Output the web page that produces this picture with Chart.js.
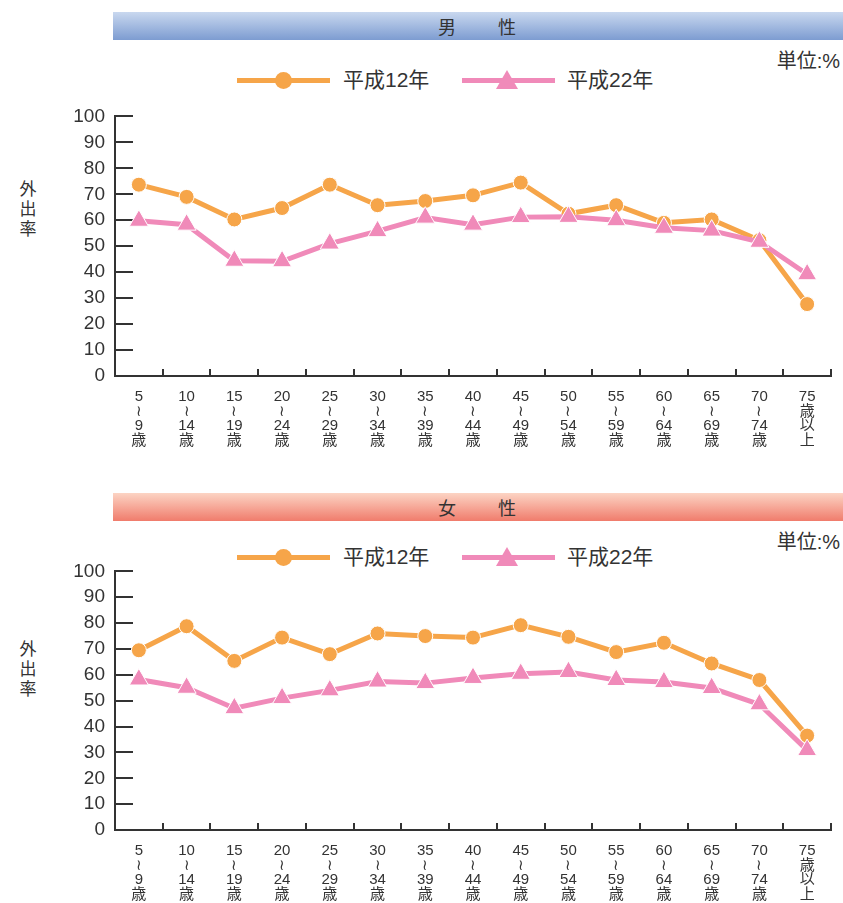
<!DOCTYPE html>
<html>
<head>
<meta charset="utf-8">
<script src="https://cdn.jsdelivr.net/npm/chart.js@4"></script>
<style>
  body { margin: 0; background: #fff; overflow: hidden; }
  #page { position: relative; width: 843px; height: 903px; font-family: 'Liberation Sans', 'Noto Sans CJK JP', sans-serif; color: #333; }
  .bar { position: absolute; left: 113px; width: 730px; height: 28px; line-height: 28px; text-align: center; font-size: 18px; letter-spacing: 2px; font-family: 'Noto Sans CJK JP', sans-serif; }
  .male { background: linear-gradient(#c9d8ef, #7d9cd1); }
  .female { background: linear-gradient(#fcd4c4, #f07c6c); }
  .unit { position: absolute; right: 3px; font-size: 20px; }
  .ytitle { position: absolute; left: 18px; width: 20px; font-size: 17px; line-height: 20px; text-align: center; font-family: 'Noto Sans CJK JP', sans-serif; }
  .lg { position: absolute; height: 24px; }
  .lg .line { position: absolute; top: 10px; height: 5px; width: 93px; }
  .lg .dot { position: absolute; top: 4px; width: 17px; height: 17px; border-radius: 50%; }
  .lg .tri { position: absolute; top: 2px; width: 0; height: 0; border-left: 11px solid transparent; border-right: 11px solid transparent; }
  .lg .txt { position: absolute; top: 0; font-size: 21px; line-height: 24px; white-space: nowrap; }
  canvas { position: absolute; left: 0; }
</style>
</head>
<body>
<div id="page">
  <div class="bar male" style="top:12px">男　　性</div>
  <div class="unit" style="top:45px">単位:%</div>
  <div class="lg" id="lg1" style="top:68px"></div>
  <div class="ytitle" style="top:178px">外<br>出<br>率</div>
  <canvas id="chart1" width="843" height="360" style="top:95px"></canvas>

  <div class="bar female" style="top:493px">女　　性</div>
  <div class="unit" style="top:526px">単位:%</div>
  <div class="lg" id="lg2" style="top:545px"></div>
  <div class="ytitle" style="top:638px">外<br>出<br>率</div>
  <canvas id="chart2" width="843" height="353" style="top:550px"></canvas>
</div>
<script>
var ageLabels = [
  ['5', '≀', '9', '歳'], ['10', '≀', '14', '歳'], ['15', '≀', '19', '歳'], ['20', '≀', '24', '歳'],
  ['25', '≀', '29', '歳'], ['30', '≀', '34', '歳'], ['35', '≀', '39', '歳'], ['40', '≀', '44', '歳'],
  ['45', '≀', '49', '歳'], ['50', '≀', '54', '歳'], ['55', '≀', '59', '歳'], ['60', '≀', '64', '歳'],
  ['65', '≀', '69', '歳'], ['70', '≀', '74', '歳'], ['75', '歳', '以', '上']
];
var seriesNames = ['平成12年', '平成22年'];

// 男性
var maleH12 = [73.7, 69.0, 60.3, 64.7, 73.7, 65.8, 67.4, 69.6, 74.5, 62.5, 65.8, 59.0, 60.3, 52.3, 27.7];
var maleH22 = [59.8, 58.3, 44.4, 44.2, 51.0, 55.8, 61.0, 58.3, 61.2, 61.3, 60.0, 57.1, 56.0, 51.7, 39.2];
// 女性
var femaleH12 = [69.5, 78.8, 65.4, 74.4, 68.0, 76.0, 75.0, 74.4, 79.2, 74.7, 68.8, 72.4, 64.4, 58.0, 36.5];
var femaleH22 = [58.2, 55.0, 47.1, 51.0, 54.0, 57.4, 56.8, 58.8, 60.4, 61.1, 58.0, 57.2, 54.9, 48.6, 30.9];

var yTicks = [0, 10, 20, 30, 40, 50, 60, 70, 80, 90, 100];

var orange = '#f6a549';
var pink = '#f08ab9';
var axisColor = '#333';
var fontFamily = "'Liberation Sans', 'Noto Sans CJK JP', sans-serif";

// legend: line + marker like the original
function buildLegend(id) {
  var el = document.getElementById(id);
  el.innerHTML =
    '<div class="line" style="left:237px;background:' + orange + '"></div>' +
    '<div class="dot" style="left:275px;background:' + orange + '"></div>' +
    '<div class="txt" style="left:343px">' + seriesNames[0] + '</div>' +
    '<div class="line" style="left:462px;background:' + pink + '"></div>' +
    '<div class="tri" style="left:496px;border-bottom:19px solid ' + pink + '"></div>' +
    '<div class="txt" style="left:567px">' + seriesNames[1] + '</div>';
}
buildLegend('lg1');
buildLegend('lg2');

// short tick marks pointing into the plot
var innerTicks = {
  id: 'innerTicks',
  beforeDatasetsDraw: function (chart) {
    var ctx = chart.ctx, x = chart.scales.x, y = chart.scales.y;
    var area = chart.chartArea;
    ctx.save();
    ctx.strokeStyle = axisColor;
    ctx.lineWidth = 2;
    ctx.beginPath();
    yTicks.forEach(function (v) {
      var py = Math.round(y.getPixelForValue(v));
      ctx.moveTo(area.left, py);
      ctx.lineTo(area.left + 18, py);
    });
    for (var i = 0; i <= ageLabels.length; i++) {
      var px = Math.round(x.getPixelForValue(i - 0.5));
      ctx.moveTo(px, area.bottom);
      ctx.lineTo(px, area.bottom - 7);
    }
    ctx.stroke();
    ctx.restore();
  }
};

function makeChart(id, h12, h22, xHeight) {
  var ctx = document.getElementById(id).getContext('2d');
  return new Chart(ctx, {
    type: 'line',
    data: {
      labels: ageLabels,
      datasets: [{
        label: seriesNames[1],
        data: h22,
        order: 0,
        borderColor: pink,
        backgroundColor: pink,
        borderWidth: 5,
        pointStyle: 'triangle',
        pointRadius: 11,
        pointBorderColor: '#fff',
        pointBorderWidth: 1,
        pointBackgroundColor: pink
      }, {
        label: seriesNames[0],
        data: h12,
        order: 1,
        borderColor: orange,
        backgroundColor: orange,
        borderWidth: 5,
        pointStyle: 'circle',
        pointRadius: 7.5,
        pointBorderColor: '#fff',
        pointBorderWidth: 1,
        pointBackgroundColor: orange
      }]
    },
    options: {
      responsive: false,
      animation: false,
      layout: { padding: { left: 0, right: 5, top: 21, bottom: 0 } },
      plugins: { legend: { display: false }, tooltip: { enabled: false } },
      scales: {
        x: {
          offset: true,
          grid: { display: true, drawOnChartArea: false, drawTicks: false, offset: true },
          border: { display: true, color: axisColor, width: 2 },
          ticks: {
            autoSkip: false,
            maxRotation: 0,
            padding: 14,
            color: axisColor,
            font: { family: fontFamily, size: 15, lineHeight: '14.5px' }
          },
          afterFit: function (scale) { scale.height = xHeight; }
        },
        y: {
          min: 0,
          max: 100,
          afterBuildTicks: function (scale) {
            scale.ticks = yTicks.map(function (v) { return { value: v }; });
          },
          grid: { display: true, drawOnChartArea: false, drawTicks: false },
          border: { display: true, color: axisColor, width: 2 },
          ticks: {
            padding: 10,
            color: axisColor,
            font: { family: fontFamily, size: 19 }
          },
          afterFit: function (scale) { scale.width = 115; }
        }
      }
    },
    plugins: [innerTicks]
  });
}

makeChart('chart1', maleH12, maleH22, 360 - 281);
makeChart('chart2', femaleH12, femaleH22, 353 - 280);
</script>
</body>
</html>
